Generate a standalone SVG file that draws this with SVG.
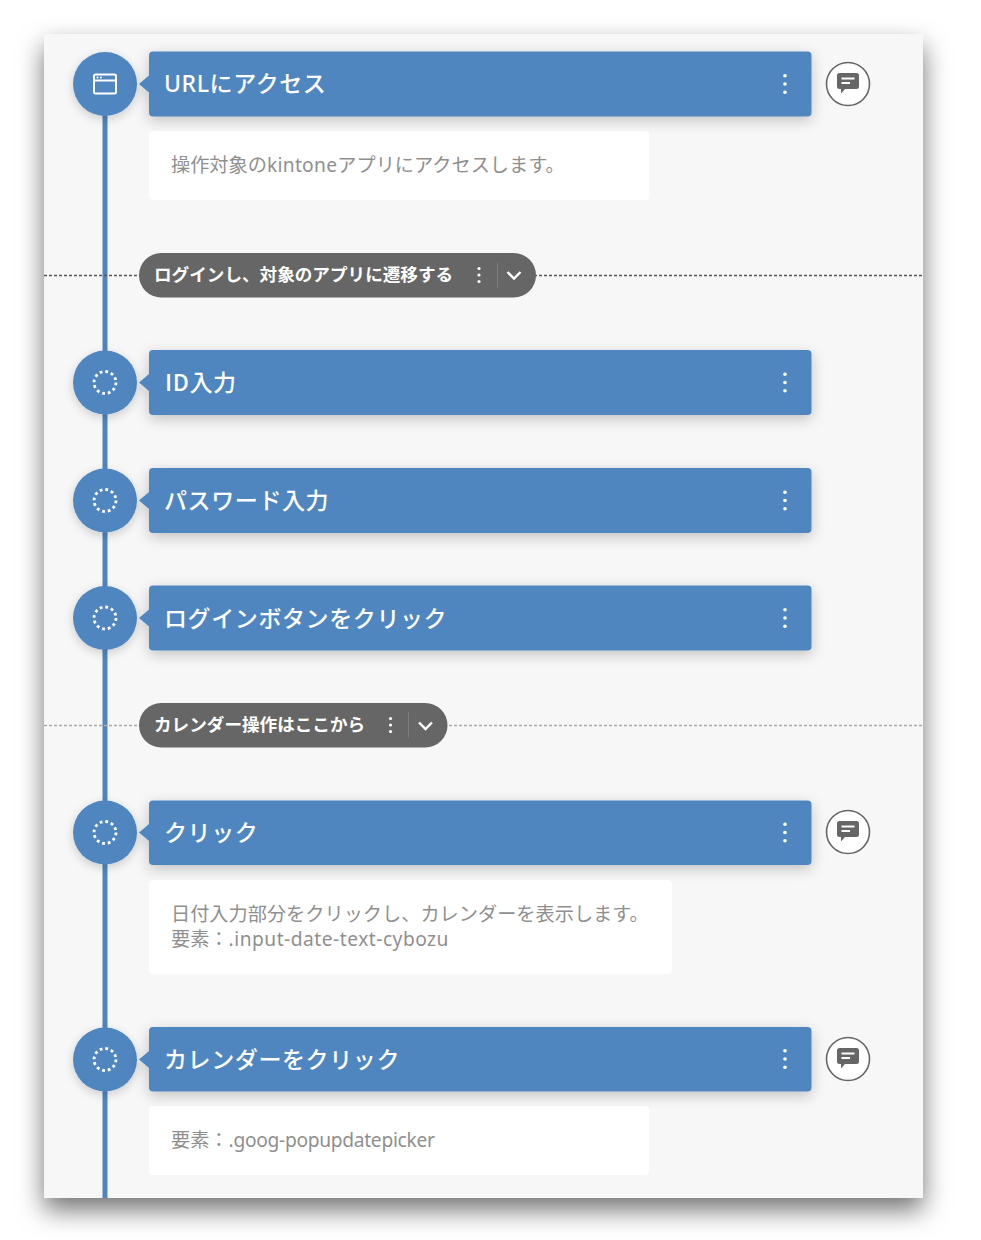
<svg xmlns="http://www.w3.org/2000/svg" width="981" height="1240" viewBox="0 0 981 1240">
<style>
text{font-family:"Noto Sans","Noto Sans CJK JP",sans-serif}
.bar{fill:#4f86c0}
.t{fill:#fff;font-size:23px;letter-spacing:.6px;font-weight:500}
.d{fill:#8f8f8f;font-size:19.2px}
.p{fill:#fff;font-size:17.6px;font-weight:700}
.note{fill:#fff}
.pill{fill:#666}
.ic{fill:none;stroke:#fff;stroke-width:2}
</style>
<defs>
<filter id="ps" x="-10%" y="-10%" width="120%" height="120%"><feDropShadow dx="0" dy="12" stdDeviation="13" flood-color="#000" flood-opacity=".55"/></filter>
<filter id="cs" x="-10%" y="-40%" width="120%" height="190%"><feDropShadow dx="0" dy="4" stdDeviation="7" flood-color="#000" flood-opacity=".22"/></filter>
<filter id="co" x="-50%" y="-50%" width="200%" height="200%"><feDropShadow dx="0" dy="3" stdDeviation="5" flood-color="#000" flood-opacity=".18"/></filter>
<g id="dots"><circle cx="0" cy="-8.300" r="1.800"/><circle cx="0" cy="0" r="1.800"/><circle cx="0" cy="8.300" r="1.800"/></g>
<g id="pdots"><circle cx="0" cy="-6.500" r="1.600"/><circle cx="0" cy="0" r="1.600"/><circle cx="0" cy="6.500" r="1.600"/></g>
<g id="spin"><circle r="11" fill="none" stroke="#fff" stroke-width="2.800" stroke-dasharray="2.800 2.960"/></g>
<g id="comment"><circle r="21.500" fill="#fff" stroke="#666" stroke-width="1.600"/><path d="M-8.500-11h17a2.500 2.500 0 0 1 2.500 2.500v11a2.500 2.500 0 0 1-2.500 2.500H-3l-4 4.500v-4.500h-1.500a2.500 2.500 0 0 1-2.500-2.500v-11a2.500 2.500 0 0 1 2.500-2.500z" fill="#666"/><path d="M-6.500-5.500h13M-6.500-1h8.500" stroke="#fff" stroke-width="2" fill="none"/></g>
</defs>
<rect width="981" height="1240" fill="#fff"/>
<rect id="panel" x="44" y="34" width="879" height="1164" fill="#f7f7f7" filter="url(#ps)"/>
<g id="connectors">
<path d="M105 84V1198" stroke="#4f86c0" stroke-width="5" fill="none"/>
<path d="M44 275.500H923" stroke="#555" stroke-width="1.400" stroke-dasharray="3 2" fill="none"/>
<path d="M44 725.500H923" stroke="#aaa" stroke-width="1.400" stroke-dasharray="3 2" fill="none"/>
</g>
<g id="n1">
<circle cx="105" cy="84" r="32" class="bar" filter="url(#co)"/>
<rect x="94" y="74.500" width="22" height="19" rx="1.500" class="ic"/>
<path d="M94 80.500h22" class="ic"/>
<circle cx="97.500" cy="77.500" r="1" fill="#fff"/><circle cx="101" cy="77.500" r="1" fill="#fff"/>
<g filter="url(#cs)"><path d="M149 75.500L139 84L149 92.500z" class="bar"/><rect x="149" y="51.500" width="662.500" height="65" rx="4" class="bar"/></g>
<text x="164" y="92" class="t">URLにアクセス</text>
<use href="#dots" x="785" y="84" fill="#fff"/>
<use href="#comment" x="848" y="84"/>
<rect x="149" y="131" width="500" height="69" rx="4" class="note"/>
<text x="171" y="172" class="d">操作対象の<tspan letter-spacing=".3">kintone</tspan>アプリにアクセスします。</text>
</g>
<g id="g1">
<rect x="139" y="253" width="397" height="44.500" rx="22.200" class="pill"/>
<text x="154" y="281" class="p">ログインし、対象のアプリに遷移する</text>
<use href="#pdots" x="479" y="275" fill="#fff"/>
<path d="M497.500 262.500v25" stroke="#7d7d7d" stroke-width="1"/>
<path d="M507.500 272l6.500 6.500 6.500-6.500" fill="none" stroke="#fff" stroke-width="2.400"/>
</g>
<g id="n2">
<circle cx="105" cy="382.500" r="32" class="bar" filter="url(#co)"/>
<use href="#spin" x="105" y="382.500"/>
<g filter="url(#cs)"><path d="M149 374L139 382.500L149 391z" class="bar"/><rect x="149" y="350" width="662.500" height="65" rx="4" class="bar"/></g>
<text x="165" y="391" class="t"><tspan font-family="'Noto Sans CJK JP',sans-serif">ID</tspan>入力</text>
<use href="#dots" x="785" y="382.500" fill="#fff"/>
</g>
<g id="n3">
<circle cx="105" cy="500.500" r="32" class="bar" filter="url(#co)"/>
<use href="#spin" x="105" y="500.500"/>
<g filter="url(#cs)"><path d="M149 492L139 500.500L149 509z" class="bar"/><rect x="149" y="468" width="662.500" height="65" rx="4" class="bar"/></g>
<text x="164" y="509" class="t">パスワード入力</text>
<use href="#dots" x="785" y="500.500" fill="#fff"/>
</g>
<g id="n4">
<circle cx="105" cy="618" r="32" class="bar" filter="url(#co)"/>
<use href="#spin" x="105" y="618"/>
<g filter="url(#cs)"><path d="M149 609.500L139 618L149 626.500z" class="bar"/><rect x="149" y="585.500" width="662.500" height="65" rx="4" class="bar"/></g>
<text x="164" y="626.500" class="t">ログインボタンをクリック</text>
<use href="#dots" x="785" y="618" fill="#fff"/>
</g>
<g id="g2">
<rect x="139" y="703" width="308.500" height="44.500" rx="22.200" class="pill"/>
<text x="154" y="731" class="p">カレンダー操作はここから</text>
<use href="#pdots" x="390.500" y="725" fill="#fff"/>
<path d="M408.500 712.500v25" stroke="#7d7d7d" stroke-width="1"/>
<path d="M419 722.500l6.500 6.500 6.500-6.500" fill="none" stroke="#fff" stroke-width="2.400"/>
</g>
<g id="n5">
<circle cx="105" cy="832.500" r="32" class="bar" filter="url(#co)"/>
<use href="#spin" x="105" y="832.500"/>
<g filter="url(#cs)"><path d="M149 824L139 832.500L149 841z" class="bar"/><rect x="149" y="800.500" width="662.500" height="64.500" rx="4" class="bar"/></g>
<text x="164" y="841" class="t">クリック</text>
<use href="#dots" x="785" y="832.500" fill="#fff"/>
<use href="#comment" x="848" y="832"/>
<rect x="149" y="880" width="523" height="94" rx="4" class="note"/>
<text x="171" y="921" class="d">日付入力部分をクリックし、カレンダーを表示します。</text>
<text x="171" y="946" class="d">要素：<tspan letter-spacing=".5">.input-date-text-cybozu</tspan></text>
</g>
<g id="n6">
<circle cx="105" cy="1059.500" r="32" class="bar" filter="url(#co)"/>
<use href="#spin" x="105" y="1059.500"/>
<g filter="url(#cs)"><path d="M149 1051L139 1059.500L149 1068z" class="bar"/><rect x="149" y="1027" width="662.500" height="64.500" rx="4" class="bar"/></g>
<text x="164" y="1067.500" class="t">カレンダーをクリック</text>
<use href="#dots" x="785" y="1059" fill="#fff"/>
<use href="#comment" x="848" y="1059"/>
<rect x="149" y="1106" width="500" height="69" rx="4" class="note"/>
<text x="171" y="1147" class="d">要素：<tspan letter-spacing="-.3">.goog-popupdatepicker</tspan></text>
</g>
</svg>
